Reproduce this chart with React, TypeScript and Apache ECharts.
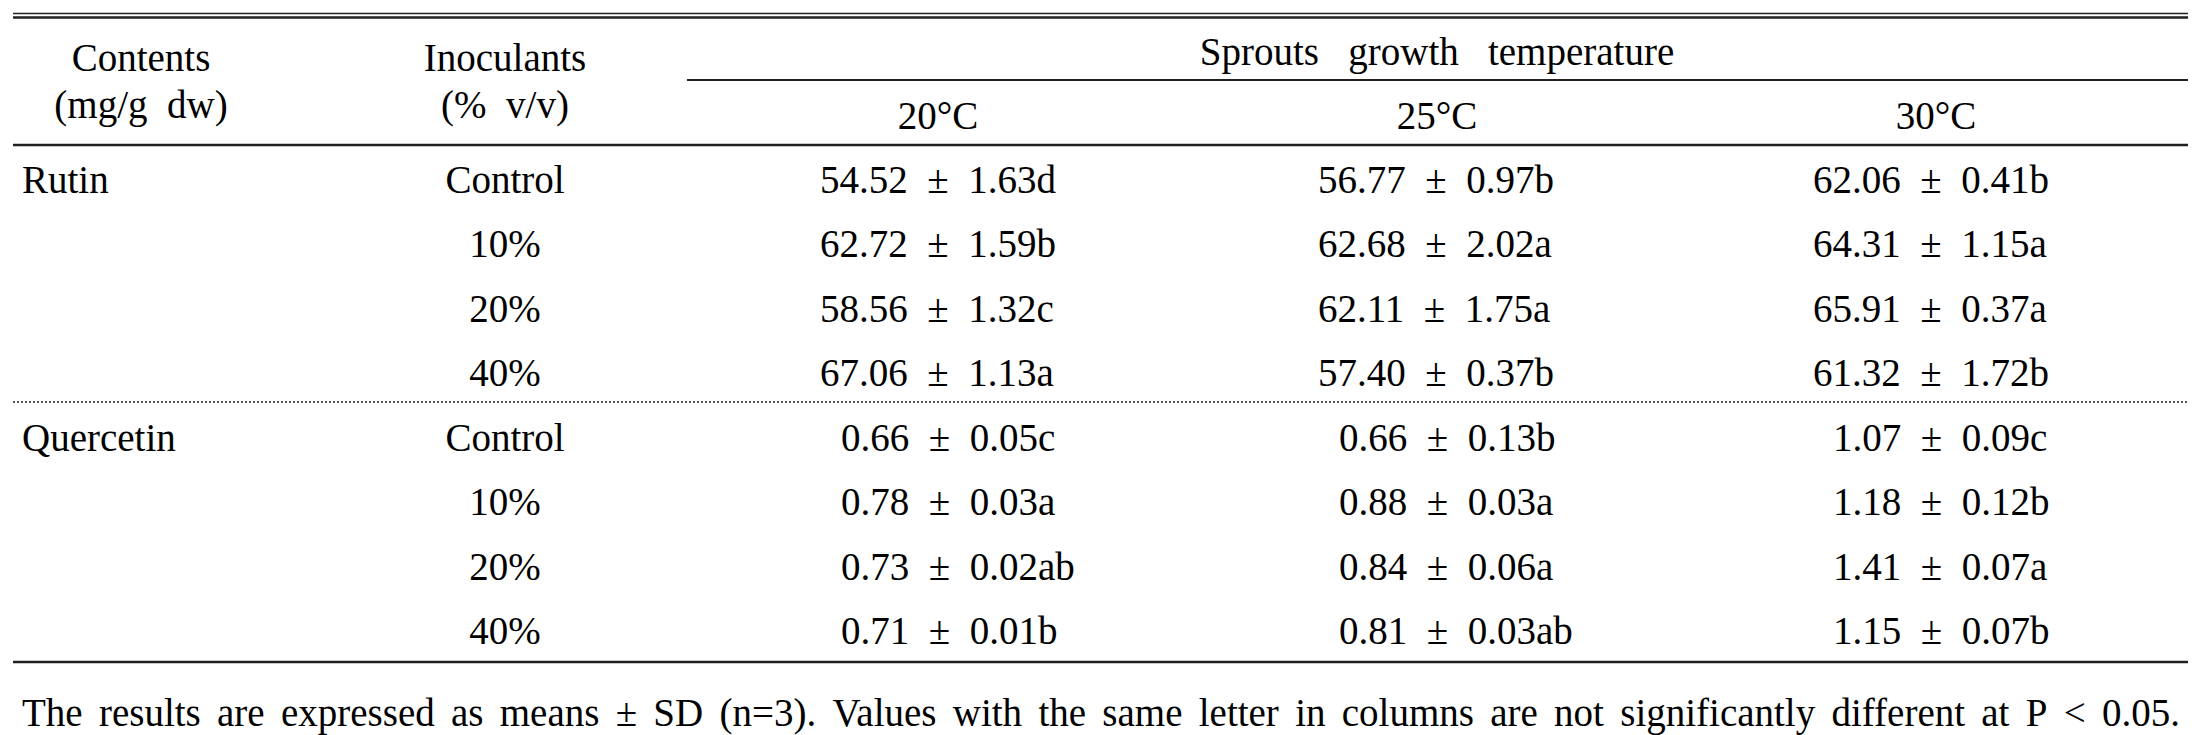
import React, { useEffect, useRef } from "react";
import * as echarts from "echarts";

const contents = ["Rutin", "Quercetin"];
const inoculants = ["Control", "10%", "20%", "40%"];
const temperatures = ["20°C", "25°C", "30°C"];
const headerContents = ["Contents", "(mg/g\u00A0\u00A0dw)"];
const headerInoculants = ["Inoculants", "(%\u00A0\u00A0v/v)"];
const headerGroup = "Sprouts\u00A0\u00A0\u00A0growth\u00A0\u00A0\u00A0temperature";

// rows: inoculants, columns: 20°C, 25°C, 30°C
const rutinMean = [
  [54.52, 56.77, 62.06],
  [62.72, 62.68, 64.31],
  [58.56, 62.11, 65.91],
  [67.06, 57.4, 61.32],
];
const rutinSD = [
  [1.63, 0.97, 0.41],
  [1.59, 2.02, 1.15],
  [1.32, 1.75, 0.37],
  [1.13, 0.37, 1.72],
];
const rutinLetter = [
  ["d", "b", "b"],
  ["b", "a", "a"],
  ["c", "a", "a"],
  ["a", "b", "b"],
];
const quercetinMean = [
  [0.66, 0.66, 1.07],
  [0.78, 0.88, 1.18],
  [0.73, 0.84, 1.41],
  [0.71, 0.81, 1.15],
];
const quercetinSD = [
  [0.05, 0.13, 0.09],
  [0.03, 0.03, 0.12],
  [0.02, 0.06, 0.07],
  [0.01, 0.03, 0.07],
];
const quercetinLetter = [
  ["c", "b", "c"],
  ["a", "a", "b"],
  ["ab", "a", "a"],
  ["b", "ab", "b"],
];
const footnote =
  "The results are expressed as means ± SD (n=3). Values with the same letter in columns are not significantly different at P < 0.05.";

const FS = 39;
const FAMILY = "Liberation Serif";
const INK = "#000";
const RULE = "#231f20";

function txt(text: string, x: number, y: number, align: string = "left") {
  return {
    type: "text",
    x,
    y,
    silent: true,
    style: {
      text,
      fontFamily: FAMILY,
      fontSize: FS,
      fill: INK,
      align,
      verticalAlign: "middle",
      textAlign: align,
      textVerticalAlign: "middle",
    },
  };
}

function hline(x1: number, x2: number, y: number, w: number, dash?: number[]) {
  return {
    type: "line",
    silent: true,
    shape: { x1, y1: y, x2, y2: y },
    style: { stroke: RULE, lineWidth: w, lineDash: dash || null },
  };
}

function measure(s: string): number {
  const c = document.createElement("canvas").getContext("2d");
  if (!c) return s.length * FS * 0.42;
  c.font = `${FS}px "${FAMILY}"`;
  return c.measureText(s).width;
}

export default function App() {
  const ref = useRef<HTMLDivElement>(null);
  useEffect(() => {
    if (!ref.current) return;
    const chart = echarts.init(ref.current, undefined, { renderer: "svg" });
    const L = 13;
    const R = 2188;
    const els: any[] = [];
    // rules
    els.push(hline(L, R, 13.5, 1.5));
    els.push(hline(L, R, 17.5, 2.5));
    els.push(hline(687, R, 80, 2));
    els.push(hline(L, R, 145, 2.5));
    els.push(hline(L, R, 402, 1.5, [2, 2]));
    els.push(hline(L, R, 662, 2.5));

    // header
    const colContents = 141;
    const colInoc = 505;
    const tempCenters = [938, 1437, 1936];
    els.push(txt(headerContents[0], colContents, 57, "center"));
    els.push(txt(headerContents[1], colContents, 104, "center"));
    els.push(txt(headerInoculants[0], colInoc, 57, "center"));
    els.push(txt(headerInoculants[1], colInoc, 104, "center"));
    els.push(txt(headerGroup, 1437, 51, "center"));
    temperatures.forEach((t, i) => els.push(txt(t, tempCenters[i], 115, "center")));

    // body
    const rowTop = 179;
    const rowStep = 64.5;
    const rutinX = [820, 1318, 1813];
    const quercX = [841, 1339, 1833];
    const groups = [
      { name: contents[0], mean: rutinMean, sd: rutinSD, let: rutinLetter, xs: rutinX, sep: "\u00A0\u00A0±\u00A0\u00A0" },
      { name: contents[1], mean: quercetinMean, sd: quercetinSD, let: quercetinLetter, xs: quercX, sep: "\u00A0\u00A0±\u00A0\u00A0" },
    ];
    groups.forEach((g, gi) => {
      inoculants.forEach((inoc, ri) => {
        const y = rowTop + rowStep * (gi * inoculants.length + ri);
        if (ri === 0) els.push(txt(g.name, 22, y, "left"));
        els.push(txt(inoc, colInoc, y, "center"));
        temperatures.forEach((_, ci) => {
          const s = g.mean[ri][ci].toFixed(2) + g.sep + g.sd[ri][ci].toFixed(2) + g.let[ri][ci];
          els.push(txt(s, g.xs[ci], y, "left"));
        });
      });
    });

    // footnote, justified between x=22 and x=2180
    const words = footnote.split(" ");
    const widths = words.map(measure);
    const total = widths.reduce((a, b) => a + b, 0);
    const fl = 22;
    const fr = 2180;
    const gap = (fr - fl - total) / (words.length - 1);
    let fx = fl;
    words.forEach((w, i) => {
      els.push(txt(w, fx, 712, "left"));
      fx += widths[i] + gap;
    });

    chart.setOption({
      animation: false,
      backgroundColor: "#ffffff",
      graphic: { elements: els },
    });
    return () => chart.dispose();
  }, []);
  return (
    <div
      ref={ref}
      style={{ position: "fixed", left: 0, top: 0, width: 2200, height: 735, background: "#fff" }}
    />
  );
}
